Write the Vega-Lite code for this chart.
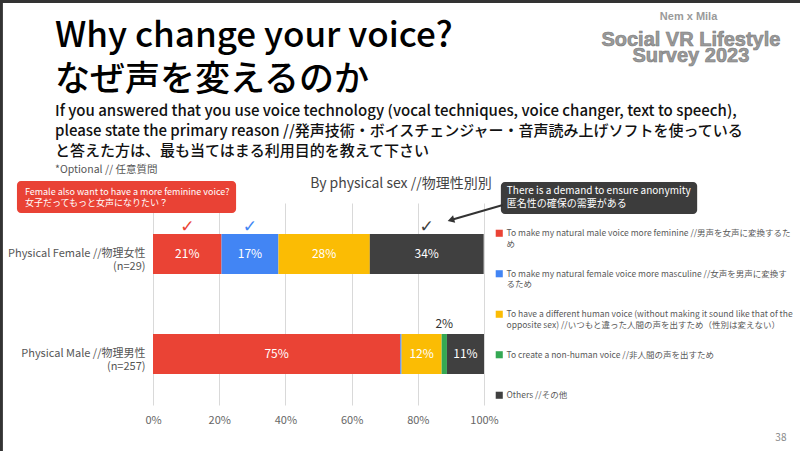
{
  "$schema": "https://vega.github.io/schema/vega-lite/v6.json",
  "width": 331,
  "height": 202,
  "autosize": {"type": "none"},
  "padding": {"left": 153, "top": 203, "right": 316, "bottom": 46},
  "background": "white",
  "title": {
    "text": ["Why change your voice?", "なぜ声を変えるのか"],
    "subtitle": [
      "If you answered that you use voice technology (vocal techniques, voice changer, text to speech),",
      "please state the primary reason //発声技術・ボイスチェンジャー・音声読み上げソフトを使っている",
      "と答えた方は、最も当てはまる利用目的を教えて下さい"
    ],
    "anchor": "start",
    "frame": "group",
    "dx": -98,
    "offset": -162,
    "font": "Noto Sans CJK JP",
    "fontSize": 35,
    "fontWeight": 500,
    "lineHeight": 44,
    "color": "#000000",
    "subtitleFont": "Noto Sans CJK JP",
    "subtitleFontSize": 15,
    "subtitleFontWeight": 500,
    "subtitleLineHeight": 20,
    "subtitleColor": "#111111",
    "subtitlePadding": 6
  },
  "resolve": {"scale": {"y": "independent"}},
  "layer": [
    {
      "data": {
        "values": [
          {"sex": "Physical Female //物理女性", "reason": "To make my natural male voice more feminine //男声を女声に変換するため", "pct": 0.207},
          {"sex": "Physical Female //物理女性", "reason": "To make my natural female voice more masculine //女声を男声に変換するため", "pct": 0.172},
          {"sex": "Physical Female //物理女性", "reason": "To have a different human voice (without making it sound like that of the opposite sex) //いつもと違った人間の声を出すため（性別は変えない）", "pct": 0.276},
          {"sex": "Physical Female //物理女性", "reason": "To create a non-human voice //非人間の声を出すため", "pct": 0.0},
          {"sex": "Physical Female //物理女性", "reason": "Others //その他", "pct": 0.344},
          {"sex": "Physical Male //物理男性", "reason": "To make my natural male voice more feminine //男声を女声に変換するため", "pct": 0.747},
          {"sex": "Physical Male //物理男性", "reason": "To make my natural female voice more masculine //女声を男声に変換するため", "pct": 0.004},
          {"sex": "Physical Male //物理男性", "reason": "To have a different human voice (without making it sound like that of the opposite sex) //いつもと違った人間の声を出すため（性別は変えない）", "pct": 0.121},
          {"sex": "Physical Male //物理男性", "reason": "To create a non-human voice //非人間の声を出すため", "pct": 0.016},
          {"sex": "Physical Male //物理男性", "reason": "Others //その他", "pct": 0.112}
        ]
      },
      "transform": [
        {"stack": "pct", "groupby": ["sex"], "as": ["x0", "x1"]},
        {"calculate": "(datum.x0 + datum.x1) / 2", "as": "mid"}
      ],
      "encoding": {
        "y": {
          "field": "sex",
          "type": "nominal",
          "sort": null,
          "scale": {"paddingInner": 0.6, "paddingOuter": 0.31},
          "axis": {
            "title": null,
            "domain": false,
            "ticks": false,
            "labelAlign": "right",
            "labelPadding": 8,
            "labelFontSize": 11,
            "labelLineHeight": 13,
            "labelColor": "#555555",
            "labelExpr": "datum.value == 'Physical Female //物理女性' ? ['Physical Female //物理女性', '(n=29)'] : ['Physical Male //物理男性', '(n=257)']"
          }
        }
      },
      "layer": [
        {
          "mark": {"type": "bar"},
          "encoding": {
            "x": {
              "field": "x0",
              "type": "quantitative",
              "scale": {"domain": [0, 1]},
              "axis": {
                "title": null,
                "values": [0, 0.2, 0.4, 0.6, 0.8, 1],
                "format": ".0%",
                "domain": false,
                "ticks": false,
                "labelFlush": false,
                "gridColor": "#d9d9d9",
                "labelColor": "#666666",
                "labelFontSize": 11,
                "labelPadding": 9
              }
            },
            "x2": {"field": "x1"},
            "color": {
              "field": "reason",
              "type": "nominal",
              "scale": {
                "domain": [
                  "To make my natural male voice more feminine //男声を女声に変換するため",
                  "To make my natural female voice more masculine //女声を男声に変換するため",
                  "To have a different human voice (without making it sound like that of the opposite sex) //いつもと違った人間の声を出すため（性別は変えない）",
                  "To create a non-human voice //非人間の声を出すため",
                  "Others //その他"
                ],
                "range": ["#EA4335", "#4285F4", "#FBBC04", "#34A853", "#404040"]
              },
              "legend": {
                "orient": "none",
                "legendX": 342,
                "legendY": 26,
                "title": null,
                "padding": 0,
                "symbolType": "square",
                "symbolSize": 50,
                "symbolStrokeWidth": 0,
                "labelFontSize": 8.5,
                "labelColor": "#595959",
                "labelLimit": 400,
                "labelOffset": 3,
                "labelBaseline": "middle",
                "rowPadding": 20.5,
                "gridAlign": "all",
                "labelExpr": "split(replace(replace(replace(datum.label, '女声に変換するため', '女声に変換するた\\nめ'), '男声に変換するため', '男声に変換す\\nるため'), 'of the opposite', 'of the\\nopposite') + (indexof(datum.label, 'voice more') < 0 && indexof(datum.label, 'of the opposite') < 0 ? '\\n ' : ''), '\\n')"
              }
            }
          }
        },
        {
          "transform": [{"filter": "datum.pct >= 0.05"}],
          "mark": {"type": "text", "color": "white", "fontSize": 12},
          "encoding": {
            "x": {"field": "mid", "type": "quantitative"},
            "text": {"field": "pct", "type": "quantitative", "format": ".0%"}
          }
        },
        {
          "transform": [{"filter": "datum.pct > 0.01 && datum.pct < 0.05"}],
          "mark": {"type": "text", "color": "#333333", "fontSize": 12, "dy": -30},
          "encoding": {
            "x": {"field": "mid", "type": "quantitative"},
            "text": {"field": "pct", "type": "quantitative", "format": ".0%"}
          }
        },
        {
          "transform": [{"filter": "datum.sex == 'Physical Female //物理女性' && datum.pct > 0 && indexof(datum.reason, 'different human') < 0"}],
          "mark": {"type": "text", "font": "DejaVu Sans", "fontSize": 17, "dy": -27},
          "encoding": {
            "x": {"field": "mid", "type": "quantitative"},
            "text": {"value": "✓"},
            "color": {"field": "reason", "type": "nominal"}
          }
        }
      ]
    },
    {
      "data": {"values": [{}]},
      "layer": [
        {
          "mark": {"type": "rule", "color": "#333333", "strokeWidth": 3},
          "encoding": {
            "x": {"datum": -0.458, "type": "quantitative"},
            "y": {"datum": 2.01, "type": "quantitative", "scale": {"domain": [0, 1], "nice": false, "zero": false}, "axis": null},
            "y2": {"datum": -0.23}
          }
        },
        {
          "mark": {"type": "rule", "color": "#333333", "strokeWidth": 3},
          "encoding": {
            "x": {"datum": -0.465, "type": "quantitative"},
            "x2": {"datum": 1.96},
            "y": {"datum": 1.998, "type": "quantitative", "axis": null}
          }
        },
        {
          "mark": {"type": "rect", "color": "#E94235", "cornerRadius": 4},
          "encoding": {
            "x": {"datum": -0.411, "type": "quantitative"},
            "x2": {"datum": 0.251},
            "y": {"datum": 1.109, "type": "quantitative", "axis": null},
            "y2": {"datum": 0.950}
          }
        },
        {
          "mark": {"type": "text", "color": "white", "align": "left", "baseline": "middle", "fontSize": 9, "lineHeight": 11.5},
          "encoding": {
            "x": {"datum": -0.387, "type": "quantitative"},
            "y": {"datum": 1.055, "type": "quantitative", "axis": null},
            "text": {"value": ["Female also want to have a more feminine voice?", "女子だってもっと女声になりたい？"]}
          }
        },
        {
          "mark": {"type": "rect", "color": "#3C3C3C", "cornerRadius": 4},
          "encoding": {
            "x": {"datum": 1.051, "type": "quantitative"},
            "x2": {"datum": 1.644},
            "y": {"datum": 1.104, "type": "quantitative", "axis": null},
            "y2": {"datum": 0.946}
          }
        },
        {
          "mark": {"type": "text", "color": "white", "align": "left", "baseline": "middle", "fontSize": 10, "lineHeight": 12.5},
          "encoding": {
            "x": {"datum": 1.069, "type": "quantitative"},
            "y": {"datum": 1.058, "type": "quantitative", "axis": null},
            "text": {"value": ["There is a demand to ensure anonymity", "匿名性の確保の需要がある"]}
          }
        },
        {
          "mark": {"type": "rule", "color": "#333333", "strokeWidth": 2},
          "encoding": {
            "x": {"datum": 1.057, "type": "quantitative"},
            "x2": {"datum": 0.9},
            "y": {"datum": 0.99, "type": "quantitative", "axis": null},
            "y2": {"datum": 0.916}
          }
        },
        {
          "mark": {"type": "point", "shape": "triangle-left", "filled": true, "color": "#333333", "size": 60, "angle": 344, "opacity": 1},
          "encoding": {
            "x": {"datum": 0.9, "type": "quantitative"},
            "y": {"datum": 0.916, "type": "quantitative", "axis": null}
          }
        },
        {
          "mark": {"type": "text", "color": "#444444", "fontSize": 14, "baseline": "middle"},
          "encoding": {
            "x": {"datum": 0.749, "type": "quantitative"},
            "y": {"datum": 1.094, "type": "quantitative", "axis": null},
            "text": {"value": "By physical sex //物理性別別"}
          }
        },
        {
          "mark": {"type": "text", "color": "#555555", "fontSize": 10.5, "align": "left", "baseline": "middle"},
          "encoding": {
            "x": {"datum": -0.296, "type": "quantitative"},
            "y": {"datum": 1.163, "type": "quantitative", "axis": null},
            "text": {"value": "*Optional // 任意質問"}
          }
        },
        {
          "mark": {"type": "text", "color": "#9a9a9a", "font": "Liberation Sans", "fontWeight": "bold", "fontSize": 11, "baseline": "middle"},
          "encoding": {
            "x": {"datum": 1.618, "type": "quantitative"},
            "y": {"datum": 1.921, "type": "quantitative", "axis": null},
            "text": {"value": "Nem x Mila"}
          }
        },
        {
          "mark": {"type": "text", "color": "#9a9a9a", "stroke": "#7a7a7a", "strokeWidth": 0.6, "font": "Liberation Sans", "fontWeight": "bold", "fontSize": 20, "lineHeight": 16, "baseline": "middle"},
          "encoding": {
            "x": {"datum": 1.625, "type": "quantitative"},
            "y": {"datum": 1.807, "type": "quantitative", "axis": null},
            "text": {"value": ["Social VR Lifestyle", "Survey 2023"]}
          }
        },
        {
          "mark": {"type": "text", "color": "#888888", "fontSize": 10, "baseline": "middle"},
          "encoding": {
            "x": {"datum": 1.897, "type": "quantitative"},
            "y": {"datum": -0.163, "type": "quantitative", "axis": null},
            "text": {"value": "38"}
          }
        }
      ]
    }
  ],
  "config": {
    "font": "Noto Sans CJK JP",
    "view": {"stroke": null}
  }
}
